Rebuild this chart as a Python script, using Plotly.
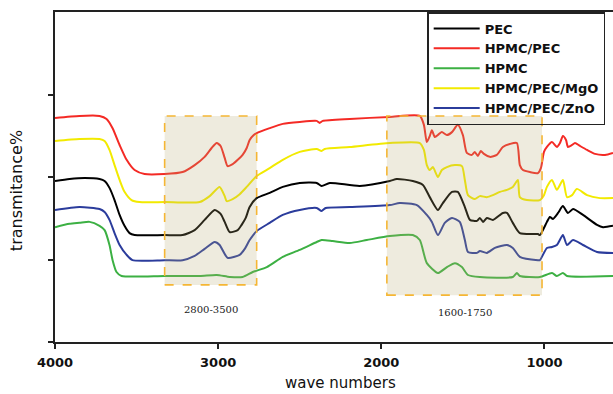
import plotly.graph_objects as go

# ---- data (wavenumber cm-1, transmittance %) ----
pec_wn = [4000,3911,3819,3727,3696,3666,3635,3604,3574,3543,3512,3328,3218,3144,3083,3021,2985,2960,2929,2880,2856,2831,2807,2764,2684,2604,2500,2396,2366,2316,2132,1948,1905,1807,1745,1703,1653,1623,1567,1531,1488,1457,1414,1396,1377,1353,1316,1255,1230,1194,1151,1040,1028,985,967,948,917,887,856,825,764,678,641,580]
pec_t = [48.8,49.4,49.7,49.4,48.8,46.7,43.0,38.5,35.2,33.0,32.4,32.4,32.4,33.9,37.0,40.0,38.8,36.4,33.3,33.9,35.5,37.6,40.9,43.6,45.2,47.0,48.2,48.2,47.3,48.2,47.3,48.8,49.4,48.8,47.6,43.9,40.0,42.1,45.5,45.5,40.9,37.0,36.7,37.6,36.4,37.6,37.0,39.1,39.1,36.1,33.0,32.7,32.4,36.4,37.9,37.3,39.1,41.2,39.1,40.3,38.5,35.5,34.8,35.2]

hpmc_pec_wn = [4000,3850,3727,3684,3647,3604,3561,3512,3451,3328,3218,3144,3083,3040,3009,2985,2960,2942,2911,2880,2850,2825,2807,2782,2764,2684,2604,2500,2396,2378,2359,2194,1948,1764,1739,1721,1703,1690,1672,1647,1629,1598,1567,1531,1500,1476,1445,1427,1408,1390,1371,1335,1292,1255,1212,1169,1151,1132,1089,1040,1022,1003,985,954,924,905,887,868,856,831,813,782,739,690,629,580]
hpmc_pec_t = [67.9,68.5,68.5,67.6,64.8,59.7,55.2,52.1,50.9,50.9,51.5,53.6,56.1,58.8,60.3,59.4,55.8,53.3,53.9,55.2,56.7,58.8,61.2,62.7,63.3,64.8,66.1,66.7,67.0,66.4,67.0,67.6,68.2,68.5,65.8,60.6,62.4,64.2,62.1,63.0,63.6,62.7,63.6,65.8,62.7,57.3,56.7,57.6,56.4,57.9,57.0,56.1,56.7,59.1,60.0,60.3,53.6,52.1,51.5,51.2,52.7,57.6,59.1,60.6,59.1,60.3,62.4,61.2,59.1,59.7,60.3,59.4,58.2,57.0,56.7,57.3]

hpmc_wn = [4000,3911,3850,3788,3727,3696,3666,3647,3623,3592,3328,3113,3009,2929,2850,2788,2702,2604,2500,2396,2366,2298,2194,2089,1948,1807,1764,1721,1653,1598,1549,1506,1469,1396,1194,1169,1151,1028,954,924,887,862,580]
hpmc_t = [34.8,35.8,36.1,36.4,35.2,33.9,29.4,24.8,21.2,20.0,20.0,20.0,20.3,19.7,19.7,21.2,22.7,25.8,27.9,30.3,30.9,30.6,30.0,30.9,32.1,32.4,30.9,23.9,20.9,22.7,23.9,22.7,20.3,19.7,19.7,20.9,20.0,19.7,20.9,20.0,20.9,20.0,20.0]

mgo_wn = [4000,3850,3727,3696,3666,3635,3604,3574,3531,3482,3328,3113,3052,2991,2960,2948,2911,2868,2825,2764,2684,2604,2500,2396,2366,2347,2194,1948,1764,1739,1721,1703,1684,1653,1629,1598,1549,1506,1488,1469,1427,1396,1353,1316,1273,1230,1194,1163,1151,1108,1028,1003,985,954,924,887,862,831,801,739,660,580]
mgo_t = [60.9,61.5,61.5,60.9,58.2,53.6,49.1,45.5,43.0,42.4,42.4,42.4,44.2,47.0,44.2,42.7,43.3,44.8,47.0,50.3,52.7,55.2,57.6,58.5,57.9,58.5,59.1,60.3,60.3,58.2,53.6,52.1,53.0,50.0,52.1,53.0,53.6,53.3,49.1,44.5,43.3,44.2,43.9,44.5,45.5,46.1,47.0,49.1,43.9,43.0,43.0,44.5,47.0,49.1,46.1,49.1,43.9,44.5,46.4,44.5,43.6,43.6]

zno_wn = [4000,3850,3727,3696,3666,3635,3604,3561,3525,3328,3218,3144,3083,3021,2991,2942,2868,2837,2807,2764,2684,2604,2500,2396,2366,2341,2194,1948,1887,1782,1721,1690,1653,1611,1567,1519,1488,1469,1414,1396,1353,1304,1230,1194,1151,1040,1028,985,954,924,887,862,825,764,678,580]
zno_t = [40.0,40.9,40.3,39.4,37.0,33.0,29.4,26.4,24.8,24.8,24.8,26.1,28.2,30.3,29.4,25.5,26.4,28.2,30.9,33.6,36.1,38.5,40.0,40.6,39.7,40.6,40.9,41.5,42.1,41.5,38.5,36.4,32.4,36.1,37.6,36.4,30.9,27.3,27.0,27.6,27.0,28.5,29.4,28.5,25.8,24.8,24.8,28.5,28.8,29.4,32.4,29.4,30.9,29.4,27.3,27.0]

series_names = ["PEC", "HPMC/PEC", "HPMC", "HPMC/PEC/MgO", "HPMC/PEC/ZnO"]
series_colors = ["#000000", "#f42a25", "#3cb043", "#f2ea00", "#2b3c9c"]
series_wn = [pec_wn, hpmc_pec_wn, hpmc_wn, mgo_wn, zno_wn]
series_t = [pec_t, hpmc_pec_t, hpmc_t, mgo_t, zno_t]

x_ticks = [4000, 3000, 2000, 1000]
y_ticks = [0, 25, 50, 75]

# highlighted regions
region_labels = ["2800-3500", "1600-1750"]
region_wn = [(3328, 2764), (1966, 1015)]
region_t = [(17.3, 68.5), (14.2, 68.5)]
label_pos = [(3046, 10.0), (1488, 8.8)]

fig = go.Figure()
for name, col, wn, t in zip(series_names, series_colors, series_wn, series_t):
    fig.add_trace(go.Scatter(x=wn, y=t, mode="lines", name=name,
                             line=dict(color=col, width=2, shape="spline", smoothing=0.6)))

for (x0, x1), (y0, y1) in zip(region_wn, region_t):
    fig.add_shape(type="rect", xref="x", yref="y", x0=x0, x1=x1, y0=y0, y1=y1,
                  layer="above", fillcolor="rgba(182,169,113,0.23)",
                  line=dict(color="#f5b634", width=1.6, dash="dash"))

for lab, (lx, ly) in zip(region_labels, label_pos):
    fig.add_annotation(x=lx, y=ly, xref="x", yref="y", text=lab, showarrow=False,
                       font=dict(family="DejaVu Serif", size=10, color="#222"))

fig.add_annotation(x=0.511, y=-0.124, xref="paper", yref="paper", text="wave numbers",
                   showarrow=False, yanchor="middle",
                   font=dict(family="DejaVu Sans", size=15, color="#111"))
fig.add_annotation(x=-0.07, y=0.46, xref="paper", yref="paper", text="transmitance%",
                   showarrow=False, textangle=-90, xanchor="center", yanchor="middle",
                   font=dict(family="DejaVu Sans", size=16, color="#111"))

fig.update_layout(
    width=613, height=394,
    margin=dict(l=55, r=0, t=12, b=52, autoexpand=False),
    plot_bgcolor="white", paper_bgcolor="white",
    showlegend=True,
    legend=dict(x=0.667, y=1, xanchor="left", yanchor="top",
                bgcolor="rgba(255,255,255,0)", bordercolor="#222", borderwidth=1.5,
                font=dict(family="DejaVu Sans", size=13, color="#111", weight="bold"),
                itemwidth=46, tracegroupgap=0),
    xaxis=dict(range=[4000, 580], tickvals=x_ticks, ticktext=[str(v) for v in x_ticks],
               showgrid=False, zeroline=False, showline=True, linecolor="#222", linewidth=1.5,
               mirror=True, ticks="outside", ticklen=5, tickcolor="#222", tickwidth=1.5,
               ticklabelstandoff=3,
               tickfont=dict(family="DejaVu Sans", size=13, color="#111", weight="bold")),
    yaxis=dict(range=[0, 100], tickvals=y_ticks, showticklabels=False,
               showgrid=False, zeroline=False, showline=True, linecolor="#222", linewidth=1.5,
               ticks="outside", ticklen=5, tickcolor="#222", tickwidth=1.5),
)

fig.write_html("out.html", config={"displayModeBar": False},
               post_script="document.body.style.margin='0';document.body.style.overflow='hidden';")
